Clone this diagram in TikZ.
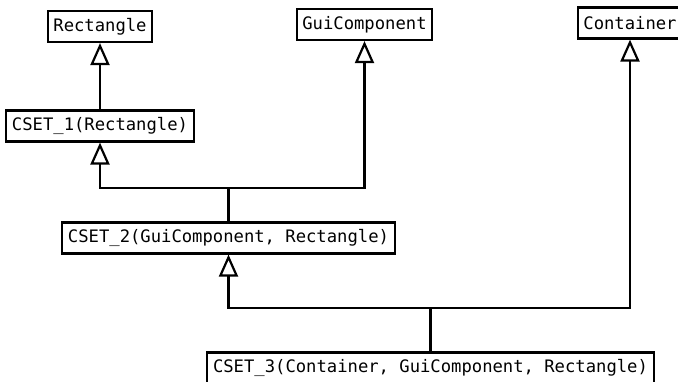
\documentclass[tikz,border=0pt]{standalone}
\usepackage{fontspec}
\setmonofont{DejaVu Sans Mono}
\usetikzlibrary{arrows.meta}

\begin{document}
\begin{tikzpicture}[x=1pt,y=-1pt,
  cls/.style={draw=black,line width=2.2pt,fill=white,inner xsep=5.7pt,minimum height=31pt,
    font=\ttfamily\fontsize{17.2}{20}\selectfont},
  isa/.style={draw=black,line width=2.2pt,-{Triangle[open,length=22pt,width=19pt]}}]
\clip (0,0) rectangle (678,381);

\node[cls] (rect) at (100,26.5) {Rectangle};
\node[cls] (gui) at (364.5,24.5) {GuiComponent};
\node[cls] (cont) at (630,23) {Container};
\node[cls] (cset1) at (100,126) {CSET\_1(Rectangle)};
\node[cls] (cset2) at (228.5,238) {CSET\_2(GuiComponent, Rectangle)};
\node[cls] (cset3) at (430.5,368) {CSET\_3(Container, GuiComponent, Rectangle)};

\coordinate (j1) at (228.5,188);
\coordinate (j2) at (430.5,308);

\draw[isa] (cset1) -- (rect);
\draw[isa] (j1) -| (cset1);
\draw[isa] (j1) -| (gui);
\draw[line width=2.2pt] (cset2) -- (j1);
\draw[isa] (j2) -| (cset2);
\draw[isa] (j2) -| (cont);
\draw[line width=2.2pt] (cset3) -- (j2);
\end{tikzpicture}
\end{document}
